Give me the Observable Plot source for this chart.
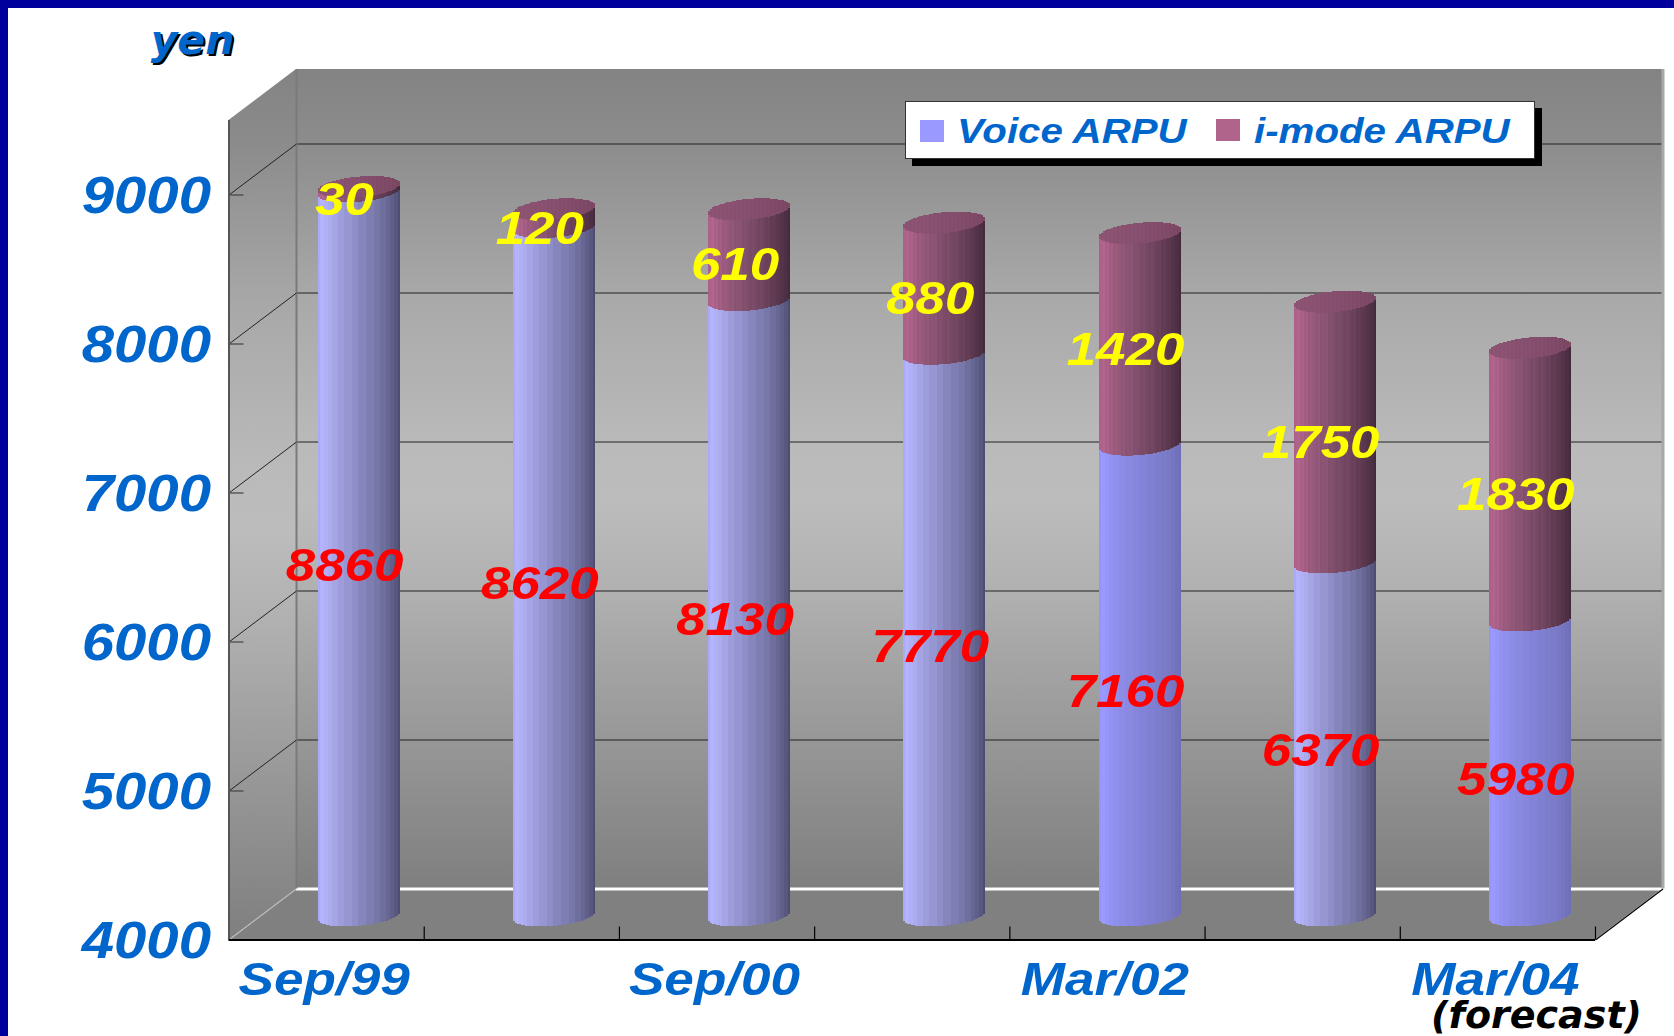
<!DOCTYPE html>
<html>
<head>
<meta charset="utf-8">
<script src="https://cdn.jsdelivr.net/npm/d3@7"></script>
<script src="https://cdn.jsdelivr.net/npm/@observablehq/plot@0.6"></script>
<style>
  html, body { margin: 0; padding: 0; background: #fff; overflow: hidden; }
  #stage { position: relative; width: 1674px; height: 1036px; overflow: hidden; box-sizing: border-box;
           border-left: 8px solid #00009c; border-top: 8px solid #00009c; }
  #chart { position: absolute; left: -8px; top: -8px; }
  #legend { position: absolute; left: 897px; top: 93px; width: 630px; height: 58px; background: #fff;
            border: 1.5px solid #333; box-sizing: border-box; box-shadow: 7px 7px 0 #000; }
  #legend .sw { position: absolute; width: 24px; height: 22px; }
  #legend .lb { position: absolute; top: 9px; font: italic bold 35px "Liberation Sans", Arial, sans-serif;
                color: #0066cc; white-space: nowrap; transform: scaleX(1.15); transform-origin: left center; }
</style>
</head>
<body>
<div id="stage">
  <div id="chart"></div>
  <div id="legend">
    <div class="sw" style="left:14px;top:18px;background:#9999ff"></div>
    <div class="lb" style="left:51px">Voice ARPU</div>
    <div class="sw" style="left:310px;top:17px;background:#b0648c"></div>
    <div class="lb" style="left:348px">i-mode ARPU</div>
  </div>
</div>
<script>
const categories = ["Sep/99", "", "Sep/00", "", "Mar/02", "", "Mar/04"];
const voiceARPU = [8860, 8620, 8130, 7770, 7160, 6370, 5980];
const imodeARPU = [30, 120, 610, 880, 1420, 1750, 1830];
const yTicks = [4000, 5000, 6000, 7000, 8000, 9000];
const flatShadedBars = [4, 6];

// chart box geometry in pixels
const marginLeft = 228.5, marginRight = 79, marginTop = 120, marginBottom = 96.5;
const pxPerCat = (1674 - marginLeft - marginRight) / 7;
const pxPerYen = (1036 - marginTop - marginBottom) / 5500;
const yMin = 4000, yMax = 9500;
const depthX = 67.5 / pxPerCat, depthY = 51 / pxPerYen;   // oblique depth of the box, data units

// cylinder cross-section in pixels
const W = 41, c = 11, phi = Math.asin(0.33);
const frontOff = t => -c * Math.sin(phi - Math.acos(t / W));
const backOff  = t => -c * Math.sin(phi + Math.acos(t / W));

const ramp = stops => d3.piecewise(d3.interpolateRgb, stops);
const voiceLit  = ramp(["#9c9ce6","#b4b4ff","#a8a8e8","#9494d0","#8080b5","#6c6c9a","#585880","#3e3e5c"]);
const voiceFlat = ramp(["#9090f0","#9999ff","#9090ee","#8888e0","#8080d4","#7a7ac8","#7272bc","#6a6ab0"]);
const imodeRamp = ramp(["#a05a80","#b3668f","#a05c80","#8a5474","#764863","#603b52","#4e3045","#38222f"]);
const capRamp   = ramp(["#8e5474","#8c5272","#875070","#824c6a","#7c4864"]);

const facets = 18;
const strips = [];
const step = 2;
voiceARPU.forEach((v, i) => {
  const top = v + imodeARPU[i];
  const voiceShade = flatShadedBars.includes(i) ? voiceFlat : voiceLit;
  const cx = i + 0.5;
  let n = 0;
  for (let px = -W; px < W; px += step, n++) {
    const tm = Math.min(W, Math.max(-W, px + step / 2));
    const f = (tm + W) / (2 * W);
    const a = Math.acos(tm / W);
    const q = (1 - a / Math.PI);
    const shade = (Math.floor(q * facets) + 0.5) / facets;
    const x1 = cx + px / pxPerCat, x2 = cx + (px + step) / pxPerCat;
    const fo = -frontOff(tm) / pxPerYen, bo = -backOff(tm) / pxPerYen;
    const hatch = col => n % 2 ? d3.color(col).darker(0.07).formatHex() : col;
    strips.push({x1, x2, y1: yMin + fo, y2: v + fo, fill: voiceShade(shade)});
    strips.push({x1, x2, y1: v + fo, y2: top + fo, fill: hatch(imodeRamp(shade))});
    strips.push({x1, x2, y1: top + fo, y2: top + bo, fill: hatch(capRamp(f))});
  }
});

const voiceLabels = voiceARPU.map((v, i) => ({x: i + 0.5, y: yMin + (v - yMin) / 2, t: String(v)}));
const imodeLabels = imodeARPU.map((v, i) => ({x: i + 0.5, y: voiceARPU[i] + v / 2, t: String(v)}));

const floor = [
  {x: 0, y1: yMin, y2: yMin},
  {x: depthX, y1: yMin, y2: yMin + depthY},
  {x: 7, y1: yMin, y2: yMin + depthY},
  {x: 7 + depthX, y1: yMin + depthY, y2: yMin + depthY}
];
const sideWall = [
  {x: 0, y1: yMin, y2: yMax},
  {x: depthX, y1: yMin + depthY, y2: yMax + depthY}
];

const defs = () => {
  const d = d3.create("svg:defs");
  const g = d.append("linearGradient").attr("id", "wall").attr("x1", 0).attr("x2", 0).attr("y1", 0).attr("y2", 1);
  [[0,"#838383"],[.09,"#8c8c8c"],[.27,"#a8a8a8"],[.46,"#bababa"],[.53,"#bcbcbc"],[.64,"#b0b0b0"],[.82,"#979797"],[1,"#7f7f7f"]]
    .forEach(([o, c]) => g.append("stop").attr("offset", o).attr("stop-color", c));
  return d.node();
};

const bold = {fontFamily: "'Liberation Sans', Arial, sans-serif", fontWeight: "bold", fontStyle: "italic"};
const barDX = 32.7, barDY = -24;

const plot = Plot.plot({
  width: 1674, height: 1036, marginLeft, marginRight, marginTop, marginBottom,
  style: {background: "transparent", overflow: "hidden"},
  x: {domain: [0, 7], range: [marginLeft, 1674 - marginRight], axis: null},
  y: {domain: [yMin, yMax], axis: null},
  color: {type: "identity"},
  marks: [
    defs,
    // walls and floor
    Plot.areaY(sideWall, {x: "x", y1: "y1", y2: "y2", fill: "url(#wall)"}),
    Plot.rect([0], {x1: depthX, x2: 7 + depthX, y1: yMin + depthY, y2: yMax + depthY, fill: "url(#wall)"}),
    Plot.areaY(floor, {x: "x", y1: "y1", y2: "y2", fill: "#808080"}),
    // back wall gridlines
    Plot.ruleY(yTicks.slice(1), {y: d => d + depthY, x1: depthX, x2: 7 + depthX, stroke: "#222", strokeWidth: 1.2}),
    Plot.ruleY([yMin + depthY], {x1: depthX, x2: 7 + depthX, stroke: "#fff", strokeWidth: 3}),
    Plot.ruleX([depthX], {y1: yMin + depthY, y2: yMax + depthY, stroke: "#7a7a7a", strokeWidth: 2}),
    Plot.ruleX([7 + depthX], {y1: yMin + depthY, y2: yMax + depthY, stroke: "#a8a8a8", strokeWidth: 3}),
    // side wall gridlines
    Plot.link(yTicks.slice(1), {x1: 0, x2: depthX, y1: d => d, y2: d => d + depthY, stroke: "#222", strokeWidth: 1}),
    Plot.link([yMin], {x1: 0, x2: depthX, y1: d => d, y2: d => d + depthY, stroke: "#c8c8c8", strokeWidth: 1}),
    Plot.link([yMin], {x1: 7, x2: 7 + depthX, y1: d => d, y2: d => d + depthY, stroke: "#000", strokeWidth: 1.2}),
    // y ticks on the front edge of the side wall, x ticks on the floor
    Plot.ruleY(yTicks.slice(1), {x1: 0, x2: 15 / pxPerCat, stroke: "#444", strokeWidth: 1.2}),
    Plot.ruleX(d3.range(1, 8), {y1: yMin, y2: yMin + 13 / pxPerYen, stroke: "#000", strokeWidth: 1.2}),
    Plot.ruleX([0], {y1: yMin, y2: yMax, stroke: "#555", strokeWidth: 2}),
    Plot.ruleY([yMin], {x1: 0, x2: 7, stroke: "#000", strokeWidth: 2}),
    // cylinders
    Plot.rect(strips, {x1: "x1", x2: "x2", y1: "y1", y2: "y2", fill: "fill", dx: barDX, dy: barDY, shapeRendering: "crispEdges"}),
    // value labels
    Plot.text(voiceLabels, {x: "x", y: "y", text: "t", fill: "#ff0000", fontSize: 46, dx: 18, dy: -12, ...bold}),
    Plot.text(imodeLabels, {x: "x", y: "y", text: "t", fill: "#ffff00", fontSize: 46, dx: 18, dy: -13.5, ...bold}),
    // axes
    Plot.axisY({ticks: yTicks, tickSize: 0, tickPadding: 18, dy: 2, tickFormat: d => String(d), fontSize: 51, color: "#0066cc", label: null, ...bold}),
    Plot.axisX({ticks: categories.map((c, i) => i + 0.5).filter((_, i) => categories[i]), tickSize: 0, tickPadding: 22, dx: -2.5,
      tickFormat: d => categories[d - 0.5], fontSize: 47, color: "#0066cc", label: null, ...bold}),
    // unit and note
    Plot.text(["yen"], {frameAnchor: "top-left", dx: -34.5, dy: -78, text: d => d, fill: "#000", fontSize: 41, lineAnchor: "middle", textAnchor: "middle", fontFamily: "'DejaVu Sans'", fontWeight: "bold", fontStyle: "italic"}),
    Plot.text(["yen"], {frameAnchor: "top-left", dx: -36.5, dy: -80, text: d => d, fill: "#0066cc", fontSize: 41, lineAnchor: "middle", textAnchor: "middle", fontFamily: "'DejaVu Sans'", fontWeight: "bold", fontStyle: "italic"}),
    Plot.text(["(forecast)"], {frameAnchor: "bottom-right", dx: -59, dy: 76, text: d => d, fill: "#000", fontSize: 38, lineAnchor: "middle", textAnchor: "middle", fontFamily: "'DejaVu Sans'", fontWeight: "bold", fontStyle: "italic"})
  ]
});

const stretch = (sel, sx) => plot.querySelectorAll(sel).forEach(n => {
  n.setAttribute("transform", (n.getAttribute("transform") || "") + ` scale(${sx},1)`);
});
stretch('g[fill="#ff0000"] text, g[fill="#ffff00"] text', 1.15);
stretch('g[aria-label="y-axis tick label"] text', 1.14);
stretch('g[aria-label="x-axis tick label"] text', 1.13);
document.getElementById("chart").appendChild(plot);
</script>
</body>
</html>
